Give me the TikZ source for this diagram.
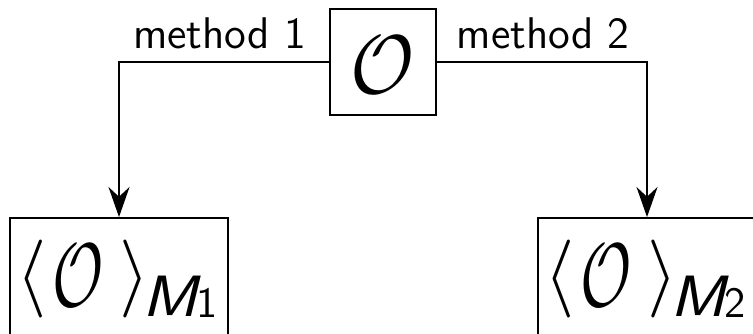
\documentclass[tikz,border=0pt]{standalone}
\usepackage{graphicx}
\usetikzlibrary{arrows.meta,calc}

\tikzset{
  x=0.266pt, y=-0.266pt,
  box/.style={draw, line width=0.5pt, inner sep=0pt},
  opbox/.style={box, minimum width=28.2pt, minimum height=28.2pt,
    text height=17pt, text depth=0pt},
  resbox/.style={box, minimum width=58pt, minimum height=32.45pt},
  lbl/.style={inner sep=0pt, font=\fontsize{11.8}{14}\selectfont\sffamily},
  flow/.style={line width=0.5pt, -{Stealth[length=8pt, width=5.6pt, inset=2.6pt]}},
}

% <O>_{M_i}: narrow script O, sans italic M and sans digit index
\newcommand{\expval}[1]{%
  {\huge$\langle$}\kern1.6pt
  \raisebox{-2.1pt}{\scalebox{0.8}[1.16]{\huge$\mathcal{O}$}}\kern4.2pt
  {\huge$\rangle$}\kern-1.9pt
  \raisebox{-4.8pt}{\scalebox{1.15}[1]{\fontsize{15.5}{18}\selectfont\sffamily\itshape M}}\kern-0.4pt
  \raisebox{-5.1pt}{\fontsize{11.5}{13}\selectfont\sffamily #1}\kern1.2pt}

\begin{document}
\begin{tikzpicture}
  \useasboundingbox (0,0) rectangle (753,334);
  \clip (0,0) rectangle (753,334);

  \node[opbox] (op) at (383,62) {\scalebox{1}[1.07]{\huge$\mathcal{O}$}};
  \node[resbox] (r1) at (119,279) {\expval{1}};
  \node[resbox] (r2) at (647,279) {\expval{2}};

  \node[lbl, anchor=base east] (m1) at ($(op.west)+(-22,-13)$) {method 1};
  \node[lbl, anchor=base west] (m2) at ($(op.east)+(19,-13)$) {method 2};

  \draw[flow] (op.west) -| (r1.north);
  \draw[flow] (op.east) -| (r2.north);
\end{tikzpicture}
\end{document}
